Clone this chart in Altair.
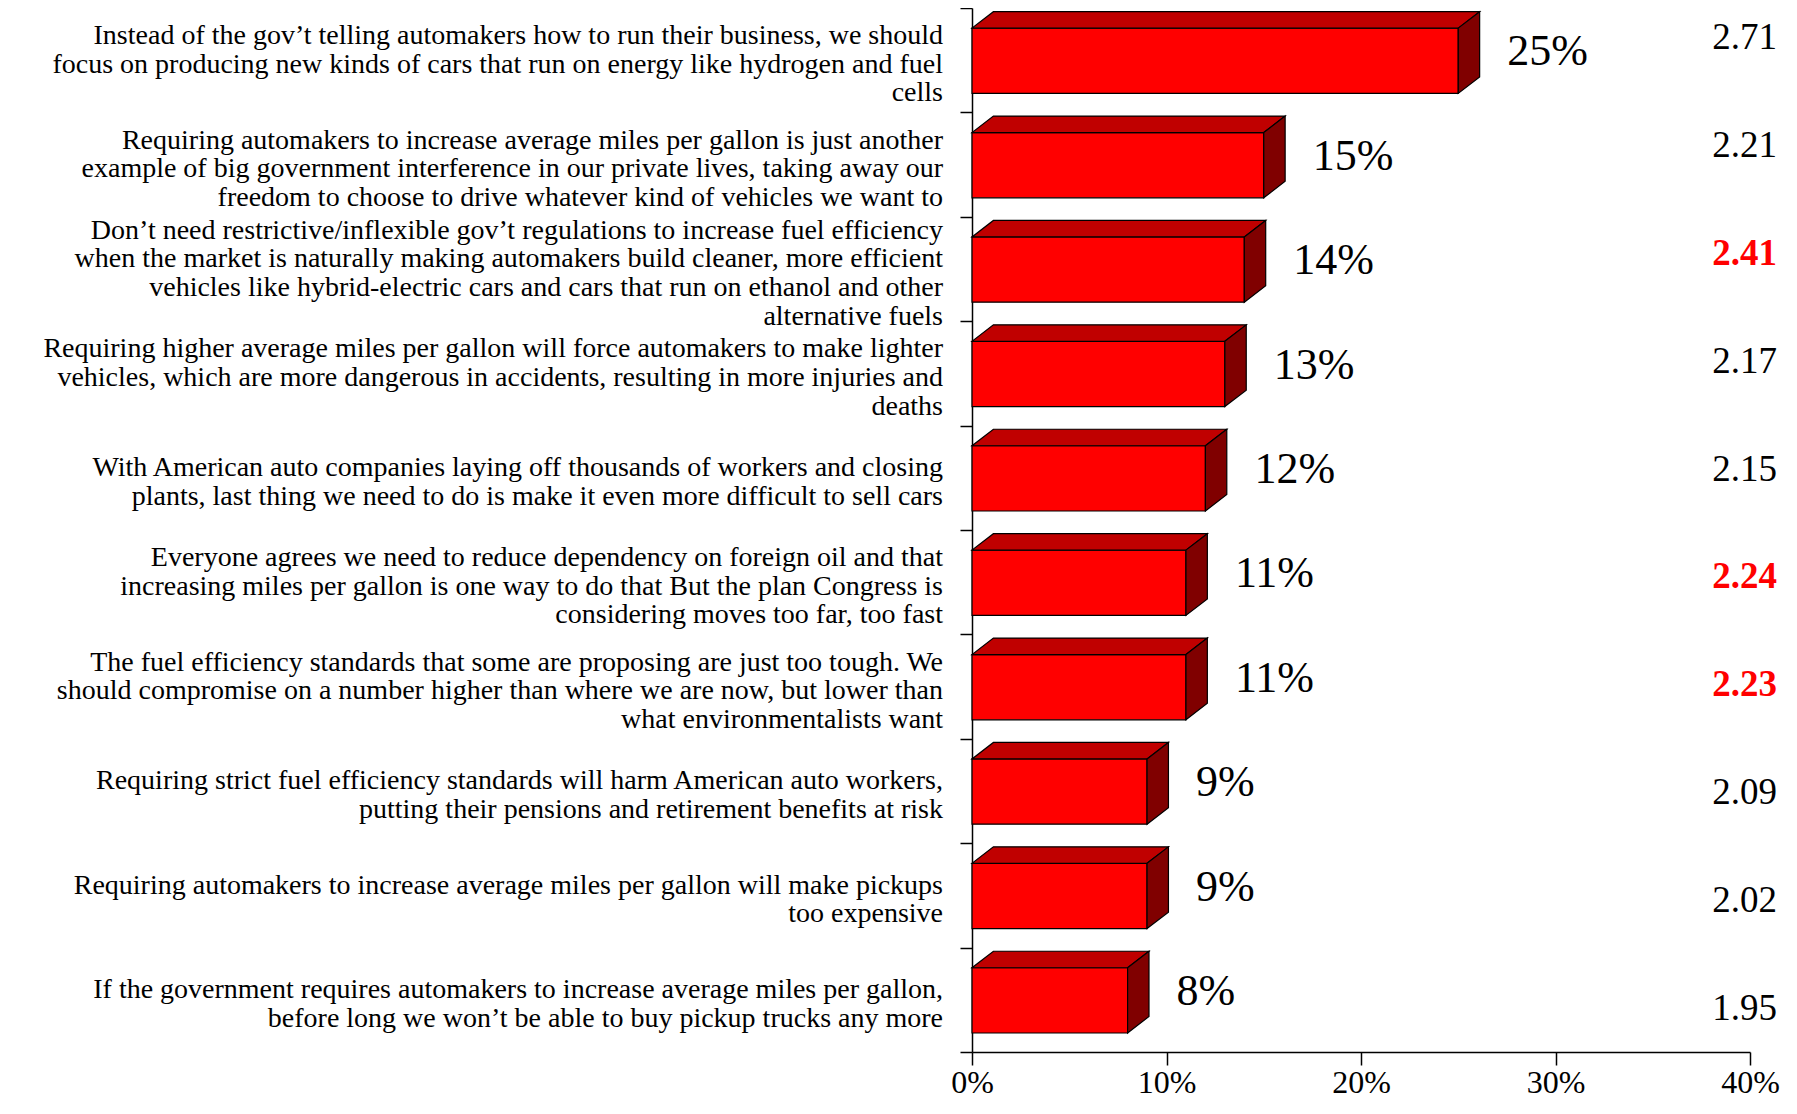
import altair as alt
import pandas as pd

categories = [
    "Instead of the gov\u2019t telling automakers how to run their business, we should\nfocus on producing new kinds of cars that run on energy like hydrogen and fuel\ncells",
    "Requiring automakers to increase average miles per gallon is just another\nexample of big government interference in our private lives, taking away our\nfreedom to choose to drive whatever kind of vehicles we want to",
    "Don\u2019t need restrictive/inflexible gov\u2019t regulations to increase fuel efficiency\nwhen the market is naturally making automakers build cleaner, more efficient\nvehicles like hybrid-electric cars and cars that run on ethanol and other\nalternative fuels",
    "Requiring higher average miles per gallon  will force automakers to make lighter\nvehicles, which are more dangerous in accidents, resulting in more injuries and\ndeaths",
    "With American auto companies laying off thousands of workers and closing\nplants, last thing we need to do is make it even more difficult to sell cars",
    "Everyone agrees we need to reduce dependency on foreign oil and that\nincreasing miles per gallon is one way to do that  But the plan Congress is\nconsidering moves too far, too fast",
    "The fuel efficiency standards that some are proposing are just too tough.  We\nshould compromise on a number higher than where we are now, but lower than\nwhat environmentalists want",
    "Requiring strict fuel efficiency standards will harm American auto workers,\nputting their pensions and retirement benefits at risk",
    "Requiring automakers to increase average miles per gallon will make pickups\ntoo expensive",
    "If the government requires automakers to increase average miles per gallon,\nbefore long we won\u2019t be able to buy pickup trucks any more",
]
shares = [25, 15, 14, 13, 12, 11, 11, 9, 9, 8]
means = [2.71, 2.21, 2.41, 2.17, 2.15, 2.24, 2.23, 2.09, 2.02, 1.95]
highlight = [False, False, True, False, False, True, True, False, False, False]
x_ticks = [0, 10, 20, 30, 40]

df = pd.DataFrame({
    "cat": categories,
    "share": shares,
    "mean": means,
    "hl": highlight,
    "idx": list(range(len(categories))),
})

FONT = "Liberation Serif"
W, H = 778, 1044
N = len(categories)
BAND = H / N
DX = 1.1     # depth of the 3-D bars, in x units
DY = 0.158   # depth of the 3-D bars, in band units
FT, FB = 0.193, 0.818  # front face top / bottom within a band
LW = 1.2
LAB_FS, LAB_LH = 28, 28.6

xs = alt.Scale(domain=[0, 40], nice=False, zero=True)
ys = alt.Scale(domain=[0, N], reverse=True, nice=False, zero=False)

base = alt.Chart(df).transform_calculate(
    yf=f"datum.idx + {FT}", yb=f"datum.idx + {FB}", zero="0"
)

front = base.mark_rect(color="#FF0000", stroke="black", strokeWidth=LW).encode(
    x=alt.X("zero:Q", scale=xs, title=None,
            axis=alt.Axis(values=x_ticks, labelExpr="datum.value + '%'", grid=False,
                          tickSize=13, tickWidth=1.5, tickColor="black",
                          domainColor="black", domainWidth=1.5,
                          labelFont=FONT, labelFontSize=32, labelColor="black",
                          labelPadding=2, labelFlush=False)),
    x2="share:Q",
    y=alt.Y("yf:Q", scale=ys, title=None,
            axis=alt.Axis(values=list(range(N + 1)), labels=False, grid=False,
                          tickSize=12, tickWidth=1.5, tickColor="black",
                          domainColor="black", domainWidth=1.5)),
    y2="yb:Q",
)

top = base.transform_calculate(k="[0,1,2,3]").transform_flatten(["k"]).transform_calculate(
    px=f"datum.k == 0 ? 0 : datum.k == 1 ? {DX} : datum.k == 2 ? datum.share : datum.share + {DX}",
    py=f"datum.k == 3 ? datum.yf - {DY} : datum.yf",
    py2=f"datum.k == 0 ? datum.yf : datum.yf - {DY}",
).mark_area(color="#C00000", stroke="black", strokeWidth=LW, orient="vertical").encode(
    x=alt.X("px:Q", scale=xs),
    y=alt.Y("py:Q", scale=ys),
    y2="py2:Q",
    detail="idx:N",
)

side = base.transform_calculate(k="[0,1]").transform_flatten(["k"]).transform_calculate(
    px=f"datum.share + datum.k * {DX}",
    py=f"datum.yf - datum.k * {DY}",
    py2=f"datum.yb - datum.k * {DY}",
).mark_area(color="#800000", stroke="black", strokeWidth=LW, orient="vertical").encode(
    x=alt.X("px:Q", scale=xs),
    y=alt.Y("py:Q", scale=ys),
    y2="py2:Q",
    detail="idx:N",
)

pct = base.transform_calculate(
    yl="datum.idx + 0.5 - 0.075", lab="datum.share + '%'"
).mark_text(align="left", baseline="middle", dx=49, font=FONT, fontSize=44, color="black").encode(
    x=alt.X("share:Q", scale=xs),
    y=alt.Y("yl:Q", scale=ys),
    text="lab:N",
)

catlab = base.transform_calculate(
    yl=f"datum.idx + 0.5 + 0.045 - (split(datum.cat, '\\n').length - 1) * {LAB_LH / 2 / BAND}"
).mark_text(
    align="right", baseline="middle", lineBreak="\n", font=FONT, fontSize=LAB_FS,
    lineHeight=LAB_LH, color="black"
).encode(
    x=alt.value(-29),
    y=alt.Y("yl:Q", scale=ys),
    text="cat:N",
)

main = alt.layer(front, top, side, pct, catlab)

mys = alt.Scale(domain=[0, N - 1], range=[30, 1001], nice=False, zero=False)
mean_plain = base.transform_filter("!datum.hl").mark_text(
    align="right", baseline="middle", font=FONT, fontSize=37, color="black"
).encode(
    x=alt.value(805),
    y=alt.Y("idx:Q", scale=mys, axis=None),
    text=alt.Text("mean:Q", format=".2f"),
)
mean_bold = base.transform_filter("datum.hl").mark_text(
    align="right", baseline="middle", font=FONT, fontSize=37, fontWeight="bold", color="#FF0000"
).encode(
    x=alt.value(805),
    y=alt.Y("idx:Q", scale=mys, axis=None),
    text=alt.Text("mean:Q", format=".2f"),
)
mean_layer = alt.layer(mean_plain, mean_bold)

chart = alt.layer(main, mean_layer).resolve_scale(y="independent").properties(
    width=W, height=H,
    padding={"left": 964, "top": 0, "right": 35, "bottom": 50},
    autosize=alt.AutoSizeParams(type="none"),
    background="white",
).configure_view(stroke=None)

chart.save("out.html", embed_options={"renderer": "svg", "actions": False})
